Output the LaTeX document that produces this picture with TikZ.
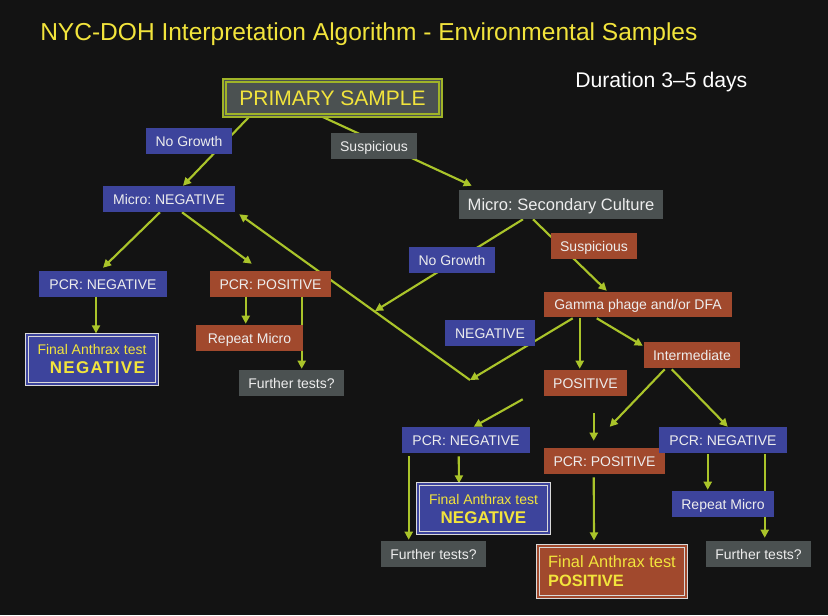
\documentclass[tikz,border=0pt]{standalone}
\usepackage{fontspec}
\setmainfont{Liberation Sans}
\usetikzlibrary{arrows.meta,calc}
\frenchspacing

\definecolor{bgcol}{RGB}{19,19,19}
\definecolor{boxblue}{RGB}{61,68,156}
\definecolor{boxrust}{RGB}{161,73,45}
\definecolor{boxgray}{RGB}{75,81,81}
\definecolor{arrowgreen}{RGB}{170,196,42}
\definecolor{textyellow}{RGB}{242,228,60}
\definecolor{rimolive}{RGB}{160,180,40}

\pgfdeclarelayer{back}
\pgfdeclarelayer{lines}
\pgfsetlayers{back,lines,main}

\tikzset{
  lbl/.style={inner sep=0pt, minimum height=19.5pt, text height=7.5pt, text depth=0pt,
    text=white!93!black, font=\fontsize{10.5}{12}\selectfont},
  bluebox/.style={lbl, fill=boxblue},
  rustbox/.style={lbl, fill=boxrust},
  graybox/.style={lbl, fill=boxgray},
  finalbox/.style={draw=white!85!black, line width=0.7pt, double distance=1.4pt,
    inner sep=0pt, text=textyellow},
  arr/.style={draw=arrowgreen, line width=1.6pt, -{Triangle[length=6pt,width=6pt]}},
}

\begin{document}
\begin{tikzpicture}[x=0.75pt,y=0.75pt,yscale=-1,xscale=1]
\begin{pgfonlayer}{back}
\fill[bgcol] (0,0) rectangle (828,615);
\end{pgfonlayer}
\useasboundingbox (0,0) rectangle (828,615);

% Text Node
\node[anchor=base west, inner sep=0pt, text=textyellow, font=\fontsize{18.4}{22}\selectfont] (title) at (40,40) {NYC-DOH Interpretation Algorithm - Environmental Samples};
% Text Node
\node[anchor=base west, inner sep=0pt, text=white, font=\fontsize{15.9}{19}\selectfont] (duration) at (575,87) {Duration 3–5 days};

%Shape: Rectangle
\node[draw=rimolive, double=boxgray, fill=boxgray, line width=1.2pt, double distance=1.2pt, minimum width=162pt, minimum height=26.4pt, inner sep=0pt, text height=11.3pt, text depth=0pt, text=textyellow, font=\fontsize{15.75}{18}\selectfont] (primary) at (332.5,98) {PRIMARY SAMPLE};

% Text Node
\node[bluebox, minimum width=64.5pt] (ng1) at (189,141) {No Growth};
\node[graybox, minimum width=64.5pt] (susp1) at (374,146) {Suspicious};
\node[bluebox, minimum width=99pt] (microneg) at (169,199) {Micro: NEGATIVE};
\node[graybox, minimum width=153pt, minimum height=21.75pt, text height=8.9pt, font=\fontsize{12.4}{14}\selectfont] (secondary) at (561,204.5) {Micro: Secondary Culture};
\node[bluebox, minimum width=96pt] (pcrneg1) at (103,284) {PCR: NEGATIVE};
\node[rustbox, minimum width=90.75pt] (pcrpos1) at (270.5,284) {PCR: POSITIVE};
\node[rustbox, minimum width=80.25pt] (repeat1) at (249.5,338) {Repeat Micro};
\node[graybox, minimum width=78.75pt] (further1) at (291.5,383) {Further tests?};
\node[bluebox, minimum width=64.5pt] (ng2) at (452,260) {No Growth};
\node[rustbox, minimum width=64.5pt] (susp2) at (594,246) {Suspicious};
\node[rustbox, minimum width=141pt, minimum height=18.75pt] (gamma) at (638,304.5) {Gamma phage and/or DFA};
\node[bluebox, minimum width=67.5pt] (negl) at (490,333) {NEGATIVE};
\node[rustbox, minimum width=72pt] (inter) at (692,355) {Intermediate};
\node[rustbox, minimum width=62.25pt] (pos) at (585.5,383) {POSITIVE};
\node[bluebox, minimum width=96pt] (pcrneg2) at (466,440) {PCR: NEGATIVE};
\node[rustbox, minimum width=90.75pt] (pcrpos2) at (604.5,461) {PCR: POSITIVE};
\node[bluebox, minimum width=96pt] (pcrneg3) at (723,440) {PCR: NEGATIVE};
\node[bluebox, minimum width=76.5pt] (repeat2) at (723,504) {Repeat Micro};
\node[graybox, minimum width=78.75pt] (further2) at (433.5,554) {Further tests?};
\node[graybox, minimum width=78.75pt] (further3) at (758.5,554) {Further tests?};

%Shape: Double Rectangle
\node[finalbox, fill=boxblue, double=boxblue, minimum width=97.7pt, minimum height=37pt, align=center, font=\fontsize{10.5}{14.25}\selectfont] (final1) at (92,359.5) {Final Anthrax test\\\hspace*{8pt}{\fontsize{12.75}{14}\selectfont\bfseries\addfontfeature{LetterSpace=8}NEGATIVE}};
\node[finalbox, fill=boxblue, double=boxblue, minimum width=98.5pt, minimum height=37pt, align=center, font=\fontsize{10.5}{14.25}\selectfont] (final2) at (483.5,508.5) {Final Anthrax test\\{\fontsize{12.75}{14}\selectfont\bfseries NEGATIVE}};
\node[finalbox, fill=boxrust, double=boxrust, minimum width=111.2pt, minimum height=38.5pt, align=left, font=\fontsize{12.3}{14.25}\selectfont] (final3) at (612,571.5) {Final Anthrax test\\\bfseries POSITIVE};

%Straight Lines
\begin{pgfonlayer}{lines}
\coordinate (vtip) at (470,380);
\coordinate (ngend) at (375,311);
\draw[arr] ($(primary.south)+(-83,0)$) -- ($(microneg.north)+(14,0)$);
\draw[arr] ($(primary.south)+(-11,0)$) -- ($(secondary.north west)+(13,-4)$);
\draw[arr] ($(microneg.south)+(-9,0)$) -- ($(pcrneg1.north)+(0,-3)$);
\draw[arr] ($(microneg.south)+(13,0)$) -- ($(pcrpos1.north west)+(42,-7)$);
\draw[arr] (vtip) -- ($(microneg.south east)+(4,2)$);
\draw[arr] ($(secondary.south)+(-38,0)$) -- (ngend);
\draw[arr] ($(secondary.south)+(-28,0)$) -- ($(gamma.north west)+(63,-1)$);
\draw[arr] ($(gamma.south west)+(29,1)$) -- (vtip);
\draw[arr] ($(gamma.south west)+(36,1)$) -- ($(pos.north west)+(36,-1)$);
\draw[arr] ($(gamma.south west)+(53,1)$) -- ($(inter.north west)+(-1,4)$);
\draw[arr] ($(inter.south west)+(21,1)$) -- ($(pcrpos2.north west)+(66,-21)$);
\draw[arr] ($(inter.south west)+(28,1)$) -- ($(pcrneg3.north west)+(69,0)$);
\draw[arr] ($(pos.south west)+(-21,3)$) -- ($(pcrneg2.north west)+(72,0)$);
\draw[arr] ($(pos.south west)+(50,17)$) -- ($(pcrpos2.north west)+(50,-7)$);
\draw[arr] ($(pcrneg2.south west)+(57,3)$) -- ($(final2.north)+(-24.5,0)$);
\draw[arr] ($(pcrneg2.south west)+(7,3)$) -- ($(further2.north west)+(28,-1)$);
\draw[arr] ($(pcrpos2.south west)+(50,3)$) -- ($(final3.north)+(-18,-5)$);
\draw[arr] ($(pcrneg3.south west)+(49,1)$) -- ($(repeat2.north west)+(36,-1)$);
\draw[arr] ($(pcrneg3.south west)+(106,1)$) -- ($(further3.north west)+(59,-3)$);
\draw[arr] ($(pcrneg1.south)+(-7,0)$) -- ($(final1.north)+(4,-1)$);
\draw[arr] ($(pcrpos1.south west)+(36,0)$) -- ($(repeat1.north west)+(50,-1)$);
\draw[arr] ($(pcrpos1.south west)+(92,0)$) -- ($(further1.north west)+(63,-1)$);
\end{pgfonlayer}

\end{tikzpicture}
\end{document}
